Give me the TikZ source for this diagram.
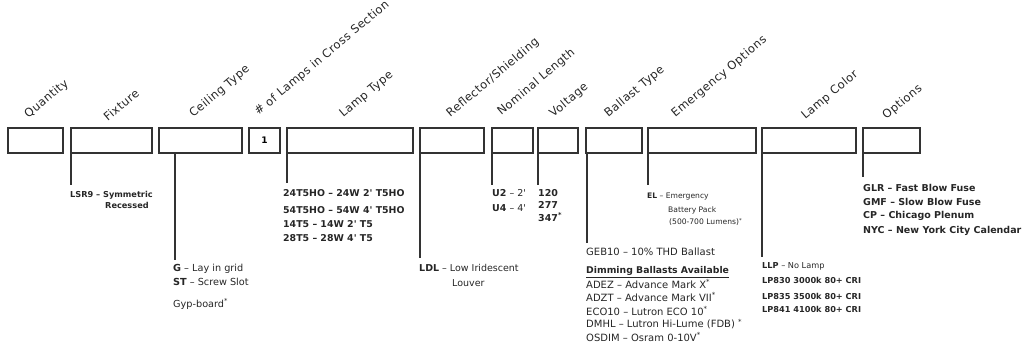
\documentclass[tikz,border=0pt]{standalone}
\usepackage{fontspec}
\setmainfont{DejaVu Sans}
\newfontfamily\lblfont[LetterSpace=4]{DejaVu Sans}
\newcommand{\ft}{\textquotesingle}
\begin{document}
\begin{tikzpicture}[x=1pt,y=-1pt,
  box/.style={draw=black!80, line width=1.4pt, inner sep=0pt, outer sep=0pt, anchor=north west, minimum height=25pt},
  lead/.style={draw=black!80, line width=1.3pt},
  lbl/.style={anchor=south west, rotate=40, inner sep=0pt, text=black!85, font=\lblfont\fontsize{11.5}{13}\selectfont},
  t/.style={anchor=west, inner sep=0pt, text=black!85},
  fs/.style={font=\fontsize{#1}{#1}\selectfont},
  fb/.style={font=\bfseries\fontsize{#1}{#1}\selectfont}
]
\useasboundingbox (0,0) rectangle (1026,347);
% boxes
\node[box, minimum width=55pt] (qty) at (8,128) {};
\node[box, minimum width=81pt] (fix) at (71,128) {};
\node[box, minimum width=83pt] (ceil) at (159,128) {};
\node[box, minimum width=31pt, font=\bfseries\fontsize{9}{9}\selectfont] (num) at (249,128) {1};
\node[box, minimum width=126pt] (lamp) at (287,128) {};
\node[box, minimum width=64pt] (refl) at (420,128) {};
\node[box, minimum width=41pt] (nom) at (492,128) {};
\node[box, minimum width=40pt] (volt) at (538,128) {};
\node[box, minimum width=56pt] (ball) at (586,128) {};
\node[box, minimum width=108pt] (emer) at (648,128) {};
\node[box, minimum width=94pt] (col) at (762,128) {};
\node[box, minimum width=57pt] (opt) at (863,128) {};
% rotated labels
\node[lbl] (lqty) at (30,121) {Quantity};
\node[lbl] (lfix) at (108,122) {Fixture};
\node[lbl] (lceil) at (195,120) {Ceiling Type};
\node[lbl] (lnum) at (260,118) {\# of Lamps in Cross Section};
\node[lbl] (llamp) at (345,120) {Lamp Type};
\node[lbl] (lrefl) at (452,120) {Reflector/Shielding};
\node[lbl] (lnom) at (503,118) {Nominal Length};
\node[lbl] (lvolt) at (555,120) {Voltage};
\node[lbl] (lball) at (610,120) {Ballast Type};
\node[lbl] (lemer) at (677,120) {Emergency Options};
\node[lbl] (lcol) at (807,122) {Lamp Color};
\node[lbl] (lopt) at (888,122) {Options};
% leader ends
\coordinate (efix) at (71,185);
\coordinate (eceil) at (175,260);
\coordinate (elamp) at (287,183);
\coordinate (erefl) at (420,258);
\coordinate (enom) at (492,185);
\coordinate (evolt) at (538,185);
\coordinate (eball) at (587,243);
\coordinate (eemer) at (648,185);
\coordinate (ecol) at (762,257);
\coordinate (eopt) at (863,177);
\draw[lead] (efix |- fix.south) -- (efix);
\draw[lead] (eceil |- ceil.south) -- (eceil);
\draw[lead] (elamp |- lamp.south) -- (elamp);
\draw[lead] (erefl |- refl.south) -- (erefl);
\draw[lead] (enom |- nom.south) -- (enom);
\draw[lead] (evolt |- volt.south) -- (evolt);
\draw[lead] (eball |- ball.south) -- (eball);
\draw[lead] (eemer |- emer.south) -- (eemer);
\draw[lead] (ecol |- col.south) -- (ecol);
\draw[lead] (eopt |- opt.south) -- (eopt);
% fixture
\node[t, fb=8.2] (fixA) at (70,195) {LSR9 – Symmetric};
\node[t, fb=8.2] (fixB) at (105,205) {Recessed};
% ceiling
\node[t, fs=9.7] (ceilA) at (173,269) {\textbf{G} – Lay in grid};
\node[t, fs=9.7] (ceilB) at (173,282) {\textbf{ST} – Screw Slot};
\node[t, fs=9.7] (ceilC) at (173,304) {Gyp-board\textsuperscript{*}};
% lamp type
\node[t, fb=9.4] (lampA) at (283,193) {24T5HO – 24W 2\ft{} T5HO};
\node[t, fb=9.4] (lampB) at (283,210) {54T5HO – 54W 4\ft{} T5HO};
\node[t, fb=9.4] (lampC) at (283,224) {14T5 – 14W 2\ft{} T5};
\node[t, fb=9.4] (lampD) at (283,238) {28T5 – 28W 4\ft{} T5};
% reflector
\node[t, fs=9.5] (reflA) at (419,268) {\textbf{LDL} – Low Iridescent};
\node[t, fs=9.5] (reflB) at (452,283) {Louver};
% nominal length
\node[t, fs=9.5] (nomA) at (492,193) {\textbf{U2} – 2\ft};
\node[t, fs=9.5] (nomB) at (492,208) {\textbf{U4} – 4\ft};
% voltage
\node[t, fb=9.5] (voltA) at (538,193) {120};
\node[t, fb=9.5] (voltB) at (538,205) {277};
\node[t, fb=9.5] (voltC) at (538,217) {347\textsuperscript{*}};
% ballast
\node[t, fs=10] (ballA) at (586,252) {GEB10 – 10\% THD Ballast};
\node[t, fb=9.3] (ballH) at (586,272) {\underline{Dimming Ballasts Available}};
\node[t, fs=10] (ballB) at (586,284) {ADEZ – Advance Mark X\textsuperscript{*}};
\node[t, fs=10] (ballC) at (586,297) {ADZT – Advance Mark VII\textsuperscript{*}};
\node[t, fs=10] (ballD) at (586,311) {ECO10 – Lutron ECO 10\textsuperscript{*}};
\node[t, fs=10] (ballE) at (586,324) {DMHL – Lutron Hi-Lume (FDB) \textsuperscript{*}};
\node[t, fs=10] (ballF) at (586,337) {OSDIM – Osram 0-10V\textsuperscript{*}};
% emergency
\node[t, fs=7.6] (emA) at (647,197) {\textbf{EL} – Emergency};
\node[t, fs=7.6] (emB) at (668,210) {Battery Pack};
\node[t, fs=7.6] (emC) at (669,222) {(500-700 Lumens)\textsuperscript{*}};
% lamp color
\node[t, fs=8.2] (colA) at (762,266) {\textbf{LLP} – No Lamp};
\node[t, fb=8.2] (colB) at (762,280) {LP830 3000k 80+ CRI};
\node[t, fb=8.2] (colC) at (762,296) {LP835 3500k 80+ CRI};
\node[t, fb=8.2] (colD) at (762,309) {LP841 4100k 80+ CRI};
% options
\node[t, fb=9.5] (optA) at (863,188) {GLR – Fast Blow Fuse};
\node[t, fb=9.5] (optB) at (863,202) {GMF – Slow Blow Fuse};
\node[t, fb=9.5] (optC) at (863,216) {CP – Chicago Plenum};
\node[t, fb=9.5] (optD) at (863,231) {NYC – New York City Calendar};
\end{tikzpicture}
\end{document}
